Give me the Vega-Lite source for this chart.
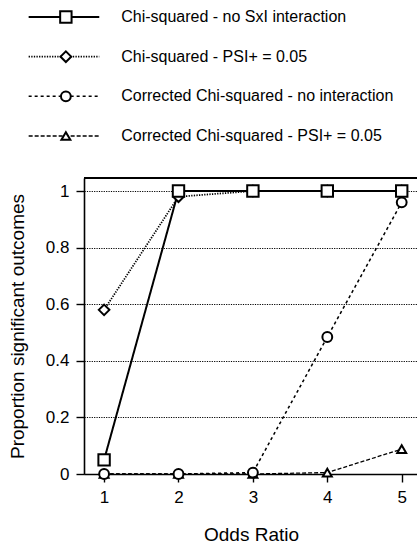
{
  "$schema": "https://vega.github.io/schema/vega-lite/v6.json",
  "padding": {"left": 8, "top": 0, "right": 0, "bottom": 0},
  "config": {
    "font": "Liberation Sans",
    "view": {"stroke": null},
    "concat": {"spacing": 27},
    "axis": {
      "labelFont": "Liberation Sans",
      "titleFont": "Liberation Sans",
      "labelColor": "black",
      "titleColor": "black",
      "titleFontWeight": "normal",
      "labelFontSize": 17,
      "titleFontSize": 19,
      "domainColor": "black",
      "domainWidth": 1.6,
      "tickColor": "black",
      "tickWidth": 1.4,
      "tickSize": 8
    }
  },
  "datasets": {
    "series": [
      {"series": "Chi-squared - no SxI interaction"},
      {"series": "Chi-squared - PSI+ = 0.05"},
      {"series": "Corrected Chi-squared - no interaction"},
      {"series": "Corrected Chi-squared - PSI+ = 0.05"}
    ],
    "power": [
      {"odds_ratio": 1, "proportion": 0.0, "series": "Corrected Chi-squared - PSI+ = 0.05"},
      {"odds_ratio": 2, "proportion": 0.0, "series": "Corrected Chi-squared - PSI+ = 0.05"},
      {"odds_ratio": 3, "proportion": 0.0, "series": "Corrected Chi-squared - PSI+ = 0.05"},
      {"odds_ratio": 4, "proportion": 0.005, "series": "Corrected Chi-squared - PSI+ = 0.05"},
      {"odds_ratio": 5, "proportion": 0.088, "series": "Corrected Chi-squared - PSI+ = 0.05"},
      {"odds_ratio": 1, "proportion": 0.58, "series": "Chi-squared - PSI+ = 0.05"},
      {"odds_ratio": 2, "proportion": 0.98, "series": "Chi-squared - PSI+ = 0.05"},
      {"odds_ratio": 3, "proportion": 1.0, "series": "Chi-squared - PSI+ = 0.05"},
      {"odds_ratio": 4, "proportion": 1.0, "series": "Chi-squared - PSI+ = 0.05"},
      {"odds_ratio": 5, "proportion": 1.0, "series": "Chi-squared - PSI+ = 0.05"},
      {"odds_ratio": 1, "proportion": 0.0, "series": "Corrected Chi-squared - no interaction"},
      {"odds_ratio": 2, "proportion": 0.0, "series": "Corrected Chi-squared - no interaction"},
      {"odds_ratio": 3, "proportion": 0.005, "series": "Corrected Chi-squared - no interaction"},
      {"odds_ratio": 4, "proportion": 0.484, "series": "Corrected Chi-squared - no interaction"},
      {"odds_ratio": 5, "proportion": 0.96, "series": "Corrected Chi-squared - no interaction"},
      {"odds_ratio": 1, "proportion": 0.05, "series": "Chi-squared - no SxI interaction"},
      {"odds_ratio": 2, "proportion": 1.0, "series": "Chi-squared - no SxI interaction"},
      {"odds_ratio": 3, "proportion": 1.0, "series": "Chi-squared - no SxI interaction"},
      {"odds_ratio": 4, "proportion": 1.0, "series": "Chi-squared - no SxI interaction"},
      {"odds_ratio": 5, "proportion": 1.0, "series": "Chi-squared - no SxI interaction"}
    ]
  },
  "vconcat": [
    {
      "width": 334,
      "height": 150,
      "data": {"name": "series"},
      "encoding": {
        "y": {
          "field": "series",
          "type": "nominal",
          "axis": null,
          "scale": {
            "type": "point",
            "padding": 0,
            "domain": [
              "Chi-squared - no SxI interaction",
              "Chi-squared - PSI+ = 0.05",
              "Corrected Chi-squared - no interaction",
              "Corrected Chi-squared - PSI+ = 0.05"
            ],
            "range": [17, 136]
          }
        }
      },
      "layer": [
        {
          "mark": {"type": "rule", "color": "black"},
          "encoding": {
            "x": {"datum": -58, "type": "quantitative", "axis": null, "scale": {"domain": [0, 334]}},
            "x2": {"datum": 16},
            "strokeDash": {
              "field": "series",
              "type": "nominal",
              "legend": null,
              "scale": {
                "domain": [
                  "Chi-squared - no SxI interaction",
                  "Chi-squared - PSI+ = 0.05",
                  "Corrected Chi-squared - no interaction",
                  "Corrected Chi-squared - PSI+ = 0.05"
                ],
                "range": [[1, 0], [1.3, 1.3], [3, 3], [4, 2]]
              }
            },
            "strokeWidth": {
              "field": "series",
              "type": "nominal",
              "legend": null,
              "scale": {
                "domain": [
                  "Chi-squared - no SxI interaction",
                  "Chi-squared - PSI+ = 0.05",
                  "Corrected Chi-squared - no interaction",
                  "Corrected Chi-squared - PSI+ = 0.05"
                ],
                "range": [2, 1.3, 1.3, 1.8]
              }
            }
          }
        },
        {
          "mark": {"type": "point", "filled": true, "fill": "white", "stroke": "black", "strokeWidth": 2, "opacity": 1},
          "encoding": {
            "x": {"datum": -19, "type": "quantitative"},
            "shape": {
              "field": "series",
              "type": "nominal",
              "legend": null,
              "scale": {
                "domain": [
                  "Chi-squared - no SxI interaction",
                  "Chi-squared - PSI+ = 0.05",
                  "Corrected Chi-squared - no interaction",
                  "Corrected Chi-squared - PSI+ = 0.05"
                ],
                "range": ["square", "diamond", "circle", "triangle-up"]
              }
            },
            "size": {
              "field": "series",
              "type": "nominal",
              "legend": null,
              "scale": {
                "domain": [
                  "Chi-squared - no SxI interaction",
                  "Chi-squared - PSI+ = 0.05",
                  "Corrected Chi-squared - no interaction",
                  "Corrected Chi-squared - PSI+ = 0.05"
                ],
                "range": [130, 80, 120, 90]
              }
            }
          }
        },
        {
          "mark": {"type": "text", "align": "left", "baseline": "middle", "fontSize": 16, "color": "black", "font": "Liberation Sans"},
          "encoding": {
            "x": {"datum": 39, "type": "quantitative"},
            "text": {"field": "series", "type": "nominal"}
          }
        }
      ]
    },
    {
      "width": 334,
      "height": 296,
      "data": {"name": "power"},
      "encoding": {
        "x": {
          "field": "odds_ratio",
          "type": "quantitative",
          "title": "Odds Ratio",
          "scale": {"domain": [0.73, 5.219], "nice": false, "zero": false},
          "axis": {"values": [1, 2, 3, 4, 5], "grid": false, "labelPadding": 7, "titlePadding": 20}
        },
        "y": {
          "field": "proportion",
          "type": "quantitative",
          "title": "Proportion significant outcomes",
          "scale": {"domain": [0, 1.046], "nice": false},
          "axis": {
            "values": [0, 0.2, 0.4, 0.6, 0.8, 1],
            "format": "~g",
            "grid": true,
            "gridColor": "black",
            "gridDash": [1.2, 1.2],
            "gridWidth": 1,
            "gridOpacity": 1,
            "labelPadding": 7,
            "titlePadding": 18
          }
        }
      },
      "layer": [
        {
          "mark": {"type": "rule", "color": "black", "strokeWidth": 1.2},
          "encoding": {
            "x": null,
            "y": {"datum": 1.046, "type": "quantitative"}
          }
        },
        {
          "mark": {"type": "line", "color": "black"},
          "encoding": {
            "detail": {"field": "series", "type": "nominal"},
            "strokeDash": {
              "field": "series",
              "type": "nominal",
              "legend": null,
              "scale": {
                "domain": [
                  "Chi-squared - no SxI interaction",
                  "Chi-squared - PSI+ = 0.05",
                  "Corrected Chi-squared - no interaction",
                  "Corrected Chi-squared - PSI+ = 0.05"
                ],
                "range": [[1, 0], [1.3, 1.3], [3, 3], [4, 2]]
              }
            },
            "strokeWidth": {
              "field": "series",
              "type": "nominal",
              "legend": null,
              "scale": {
                "domain": [
                  "Chi-squared - no SxI interaction",
                  "Chi-squared - PSI+ = 0.05",
                  "Corrected Chi-squared - no interaction",
                  "Corrected Chi-squared - PSI+ = 0.05"
                ],
                "range": [2, 1.3, 1.3, 1.8]
              }
            }
          }
        },
        {
          "mark": {"type": "point", "filled": true, "fill": "white", "stroke": "black", "strokeWidth": 2, "opacity": 1},
          "encoding": {
            "shape": {
              "field": "series",
              "type": "nominal",
              "legend": null,
              "scale": {
                "domain": [
                  "Chi-squared - no SxI interaction",
                  "Chi-squared - PSI+ = 0.05",
                  "Corrected Chi-squared - no interaction",
                  "Corrected Chi-squared - PSI+ = 0.05"
                ],
                "range": ["square", "diamond", "circle", "triangle-up"]
              }
            },
            "size": {
              "field": "series",
              "type": "nominal",
              "legend": null,
              "scale": {
                "domain": [
                  "Chi-squared - no SxI interaction",
                  "Chi-squared - PSI+ = 0.05",
                  "Corrected Chi-squared - no interaction",
                  "Corrected Chi-squared - PSI+ = 0.05"
                ],
                "range": [130, 80, 120, 90]
              }
            }
          }
        }
      ]
    }
  ]
}
